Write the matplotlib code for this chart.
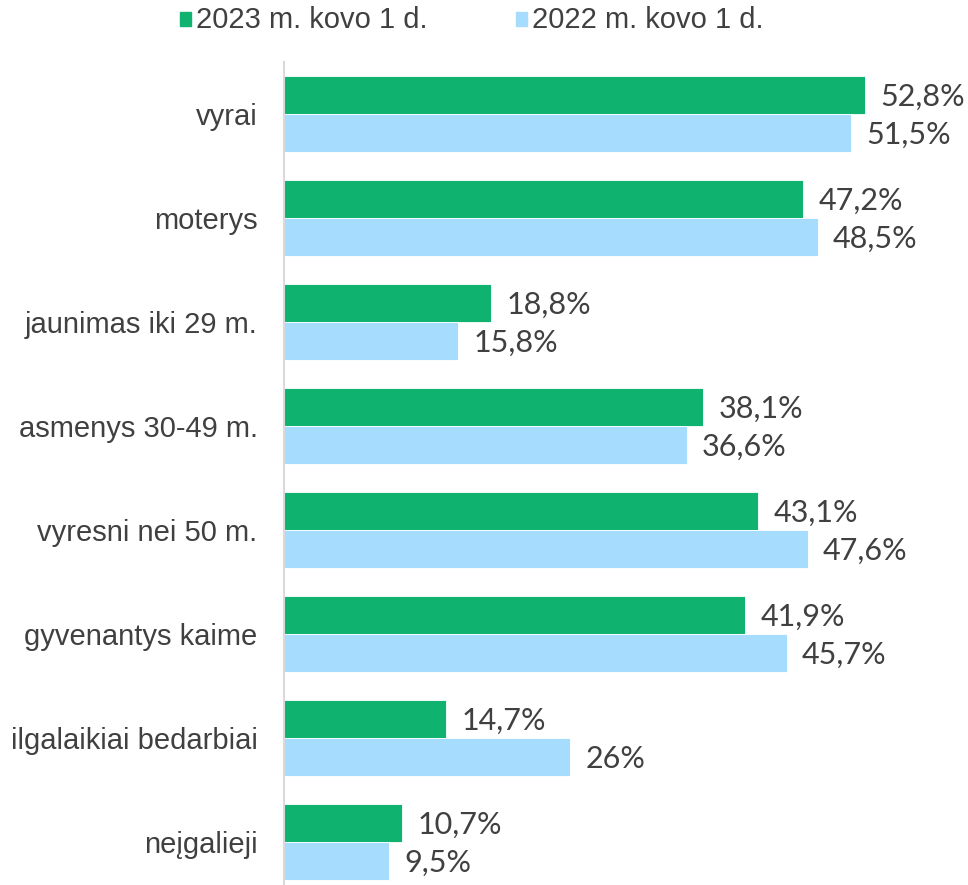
import matplotlib.pyplot as plt
import numpy as np

categories = [
    "vyrai",
    "moterys",
    "jaunimas iki 29 m.",
    "asmenys 30-49 m.",
    "vyresni nei 50 m.",
    "gyvenantys kaime",
    "ilgalaikiai bedarbiai",
    "neįgalieji",
]
values_2023 = [52.8, 47.2, 18.8, 38.1, 43.1, 41.9, 14.7, 10.7]
values_2022 = [51.5, 48.5, 15.8, 36.6, 47.6, 45.7, 26.0, 9.5]
labels_2023 = ["52,8%", "47,2%", "18,8%", "38,1%", "43,1%", "41,9%", "14,7%", "10,7%"]
labels_2022 = ["51,5%", "48,5%", "15,8%", "36,6%", "47,6%", "45,7%", "26%", "9,5%"]
series_names = ["2023 m. kovo 1 d.", "2022 m. kovo 1 d."]

green = "#10b26f"
blue = "#a6dcfe"
text_color = "#404040"

W, H = 968, 885
fig = plt.figure(figsize=(W / 100, H / 100), dpi=100)
ax = fig.add_axes([284 / W, 0, 1 - 284 / W, (885 - 62) / H])

y = np.arange(len(categories))
h = 0.365
ax.barh(y - h / 2, values_2023, height=h, color=green, edgecolor="white", linewidth=0.6)
ax.barh(y + h / 2, values_2022, height=h, color=blue, edgecolor="white", linewidth=0.6)

for i in range(len(categories)):
    ax.text(values_2023[i] + 1.4, y[i] - h / 2 + 0.02, labels_2023[i], va="center",
            ha="left", fontsize=22, color=text_color, family="Lato")
    ax.text(values_2022[i] + 1.4, y[i] + h / 2 + 0.02, labels_2022[i], va="center",
            ha="left", fontsize=22, color=text_color, family="Lato")

ax.set_xlim(0, (W - 284) / 11.0)
ax.set_ylim(7 + 43 / 104, -0.5)
ax.set_yticks(y)
ax.set_yticklabels(categories, fontsize=21, color=text_color, family="Liberation Sans")
ax.tick_params(axis="y", length=0, pad=19)
ax.set_xticks([])
for s in ["top", "right", "bottom"]:
    ax.spines[s].set_visible(False)
ax.spines["left"].set_color("#d9d9d9")
ax.spines["left"].set_linewidth(1.5)

# legend drawn by hand at top
fig.patches.append(plt.Rectangle((180 / W, 1 - 26 / H), 11 / W, 14 / H,
                                 transform=fig.transFigure, color=green))
fig.text(196 / W, 1 - 20 / H, series_names[0], va="center", ha="left", fontsize=21,
         color=text_color, family="Liberation Sans")
fig.patches.append(plt.Rectangle((516 / W, 1 - 26 / H), 11 / W, 14 / H,
                                 transform=fig.transFigure, color=blue))
fig.text(532 / W, 1 - 20 / H, series_names[1], va="center", ha="left", fontsize=21,
         color=text_color, family="Liberation Sans")

fig.savefig("out.png", dpi=100)
